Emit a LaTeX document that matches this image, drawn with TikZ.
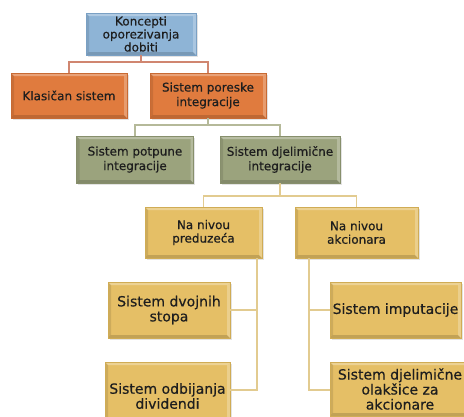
\documentclass[tikz,border=0pt]{standalone}
\usepackage{fontspec}
\setmainfont{DejaVu Sans}
\newfontfamily\boxfont{DejaVu Sans}[FakeBold=0.5]
\usetikzlibrary{shadows}
\definecolor{bluefill}{HTML}{8EB4D6}
\definecolor{blueedge}{HTML}{7AA0C4}
\definecolor{orangefill}{HTML}{E07B3E}
\definecolor{orangeedge}{HTML}{C86A33}
\definecolor{greenfill}{HTML}{9BA37D}
\definecolor{greenedge}{HTML}{878F6C}
\definecolor{goldfill}{HTML}{E5BF66}
\definecolor{goldedge}{HTML}{D0AC55}
\definecolor{lineA}{HTML}{D08670}
\definecolor{lineB}{HTML}{B5B999}
\definecolor{lineC}{HTML}{E2CB90}
\definecolor{txt}{HTML}{1E1E1E}
\tikzset{
  bevel/.style={path picture={
    \fill[white,opacity=0.30] (path picture bounding box.north west) -- (path picture bounding box.north east)
      -- ([shift={(-3,3)}]path picture bounding box.north east) -- ([shift={(3,3)}]path picture bounding box.north west) -- cycle;
    \fill[white,opacity=0.25] (path picture bounding box.north east) -- (path picture bounding box.south east)
      -- ([shift={(-3,-3)}]path picture bounding box.south east) -- ([shift={(-3,3)}]path picture bounding box.north east) -- cycle;
    \fill[black,opacity=0.15] (path picture bounding box.south west) -- (path picture bounding box.south east)
      -- ([shift={(-3,-3)}]path picture bounding box.south east) -- ([shift={(3,-3)}]path picture bounding box.south west) -- cycle;
    \fill[black,opacity=0.10] (path picture bounding box.north west) -- (path picture bounding box.south west)
      -- ([shift={(3,-3)}]path picture bounding box.south west) -- ([shift={(3,3)}]path picture bounding box.north west) -- cycle;
  }},
  box/.style={rectangle, inner sep=0pt, align=center, text=txt, line width=0.5pt, bevel,
    drop shadow={shadow xshift=1.5pt, shadow yshift=-1.5pt, opacity=0.22},
    font=\boxfont\fontsize{12}{14.5}\selectfont},
  bigbox/.style={box, font=\boxfont\fontsize{14}{15}\selectfont},
  bluebox/.style={fill=bluefill, draw=blueedge},
  orangebox/.style={fill=orangefill, draw=orangeedge},
  greenbox/.style={fill=greenfill, draw=greenedge},
  goldbox/.style={fill=goldfill, draw=goldedge},
  conn/.style={line width=1.2pt},
}
\begin{document}
\begin{tikzpicture}[x=1pt,y=-1pt]
\clip (0,0) rectangle (464,416);
\fill[white] (0,0) rectangle (464,416);
% junctions
\coordinate (j1) at (141,62);
\coordinate (j2) at (208,125);
\coordinate (j3) at (280,196);
\coordinate (v1) at (257,258);
\coordinate (v2) at (309,258);
% boxes
\node[box,bluebox,minimum width=110pt,minimum height=42pt,font=\boxfont\fontsize{12}{13}\selectfont] (top) at (141,34) {Koncepti\\oporezivanja\\dobiti};
\node[box,orangebox,minimum width=116pt,minimum height=45pt] (klas) at (69,95.5) {Klasičan sistem};
\node[box,orangebox,minimum width=116pt,minimum height=45pt] (spi) at (208,95.5) {Sistem poreske\\integracije};
\node[box,greenbox,minimum width=117pt,minimum height=47pt] (spot) at (135,159.5) {Sistem potpune\\integracije};
\node[box,greenbox,minimum width=120pt,minimum height=47pt] (sdi) at (280,159.5) {Sistem djelimične\\integracije};
\node[box,goldbox,minimum width=117pt,minimum height=51pt,font=\boxfont\fontsize{12}{13.5}\selectfont] (nnp) at (203.5,232.5) {Na nivou\\preduzeća};
\node[box,goldbox,minimum width=123pt,minimum height=51pt,font=\boxfont\fontsize{12}{13.5}\selectfont] (nna) at (356.5,232.5) {Na nivou\\akcionara};
\node[bigbox,goldbox,minimum width=122pt,minimum height=56pt] (sds) at (169,310) {Sistem dvojnih\\stopa};
\node[bigbox,goldbox,minimum width=131pt,minimum height=56pt] (simp) at (395.5,310) {Sistem imputacije};
\node[bigbox,goldbox,minimum width=125pt,minimum height=68pt] (sod) at (167.5,396) {Sistem odbijanja\\dividendi};
\node[bigbox,goldbox,minimum width=140pt,minimum height=54pt] (sdo) at (400,389) {Sistem djelimične\\olakšice za\\akcionare};
% connectors (drawn behind boxes)
\begin{scope}[on background layer/.try]
\end{scope}
\draw[conn,lineA] (top.south) -- (j1);
\draw[conn,lineA] (j1) -| (klas.north);
\draw[conn,lineA] (j1) -| (spi.north);
\draw[conn,lineB] (spi.south) -- (j2);
\draw[conn,lineB] (j2) -| (spot.north);
\draw[conn,lineB] (j2) -| (sdi.north);
\draw[conn,lineC] (sdi.south) -- (j3);
\draw[conn,lineC] (j3) -| (nnp.north);
\draw[conn,lineC] (j3) -| (nna.north);
\draw[conn,lineC] (v1) |- (sds.east);
\draw[conn,lineC] (v1) |- (sod.east |- 0,390);
\draw[conn,lineC] (v2) |- (simp.west);
\draw[conn,lineC] (v2) |- (sdo.west |- 0,390);
\end{tikzpicture}
\end{document}
